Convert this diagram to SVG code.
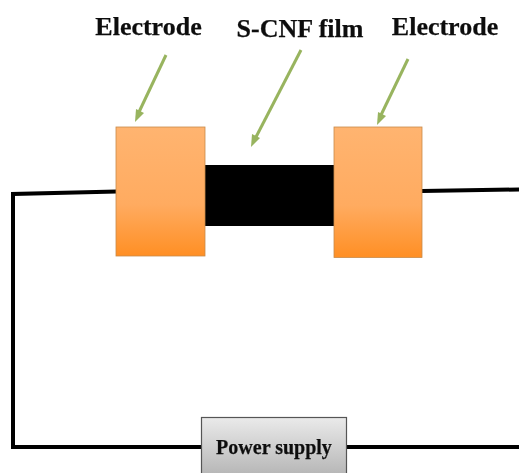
<svg xmlns="http://www.w3.org/2000/svg" width="519" height="473" viewBox="0 0 519 473">
<style>
.wire{fill:none;stroke:#000;stroke-width:4;stroke-linejoin:miter}
.arrow{fill:none;stroke:#98b45e;stroke-width:3}
.head{fill:#98b45e}
.lab{font-family:"Liberation Serif",serif;font-weight:bold;fill:#111;stroke:#111;stroke-width:.25}
.el{fill:url(#og);stroke:#c98a4a;stroke-width:.8}
</style>
<defs>
<linearGradient id="og" x1="0" y1="0" x2="0" y2="1">
<stop offset="0" stop-color="#ffb470"/><stop offset=".6" stop-color="#ffab60"/><stop offset="1" stop-color="#ff8f24"/>
</linearGradient>
<linearGradient id="gg" x1="0" y1="0" x2="0" y2="1">
<stop offset="0" stop-color="#eaeaea"/><stop offset="1" stop-color="#b4b4b4"/>
</linearGradient>
<filter id="b" x="-5%" y="-5%" width="110%" height="110%"><feGaussianBlur stdDeviation="0.5"/></filter>
</defs>
<g id="connectors" filter="url(#b)">
<path class="wire" d="M117 191.500L13 194V447H202"/>
<path class="wire" d="M422 191L519 189.500"/>
<path class="wire" d="M346 447H519"/>
<path class="arrow" d="M166 55L139 112"/>
<path class="head" d="M135 122L136 109L144 113Z"/>
<path class="arrow" d="M301 50L256 137"/>
<path class="head" d="M251 147L252 134L260 138Z"/>
<path class="arrow" d="M408 59L381 115"/>
<path class="head" d="M377 125L378 112L386 116Z"/>
</g>
<g id="film"><rect x="204" y="165" width="131" height="61" fill="#000"/></g>
<g id="electrode-left"><rect class="el" x="116" y="127" width="89" height="129"/></g>
<g id="electrode-right"><rect class="el" x="334" y="127" width="88" height="130.500"/></g>
<g id="power-supply">
<rect x="201.500" y="417.500" width="145" height="60" fill="url(#gg)" stroke="#555" stroke-width="1.200"/>
<text class="lab" x="274" y="454" font-size="20" text-anchor="middle" filter="url(#b)">Power supply</text>
</g>
<g id="labels" filter="url(#b)">
<text class="lab" x="148.500" y="35" font-size="26" text-anchor="middle">Electrode</text>
<text class="lab" x="300" y="37" font-size="26" text-anchor="middle">S-CNF film</text>
<text class="lab" x="445" y="35" font-size="26" text-anchor="middle">Electrode</text>
</g>
</svg>
